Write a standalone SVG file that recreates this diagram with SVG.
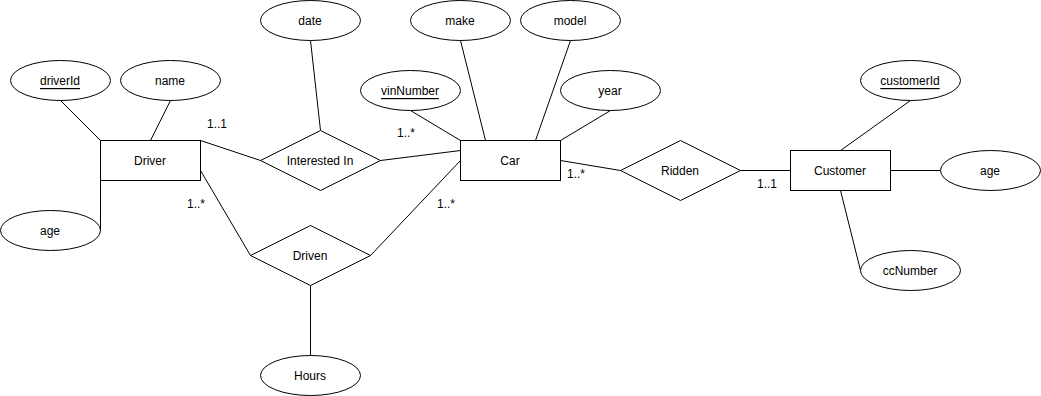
<svg xmlns="http://www.w3.org/2000/svg" width="1041" height="396" viewBox="0 0 1041 396">
  <style>
    .shape { fill: #ffffff; stroke: #000000; stroke-width: 1; }
    .edge { fill: none; stroke: #000000; stroke-width: 1; }
    .label { font-family: "Liberation Sans", Arial, sans-serif; font-size: 12px; fill: #000000; text-anchor: middle; dominant-baseline: central; }
    .card { font-family: "Liberation Sans", Arial, sans-serif; font-size: 12px; fill: #000000; text-anchor: start; dominant-baseline: central; }
    .key { text-decoration: underline; }
  </style>
  <rect width="1041" height="396" fill="#ffffff"/>

  <!-- connectors -->
  <g id="connectors" transform="translate(0.5,0.5)">
    <line class="edge" x1="60" y1="100" x2="100" y2="140"/>
    <line class="edge" x1="170" y1="100" x2="150" y2="140"/>
    <line class="edge" x1="100" y1="180" x2="100" y2="230"/>
    <line class="edge" x1="200" y1="140" x2="260" y2="160"/>
    <line class="edge" x1="310" y1="40" x2="320" y2="130"/>
    <line class="edge" x1="380" y1="160" x2="460" y2="150"/>
    <line class="edge" x1="410" y1="110" x2="460" y2="140"/>
    <line class="edge" x1="460" y1="40" x2="485" y2="140"/>
    <line class="edge" x1="570" y1="40" x2="535" y2="140"/>
    <line class="edge" x1="610" y1="110" x2="560" y2="140"/>
    <line class="edge" x1="560" y1="160" x2="620" y2="170"/>
    <line class="edge" x1="740" y1="170" x2="790" y2="170"/>
    <line class="edge" x1="910" y1="100" x2="840" y2="150"/>
    <line class="edge" x1="890" y1="170" x2="940" y2="170"/>
    <line class="edge" x1="840" y1="190" x2="860" y2="270"/>
    <line class="edge" x1="200" y1="170" x2="250" y2="255"/>
    <line class="edge" x1="460" y1="160" x2="370" y2="255"/>
    <line class="edge" x1="310" y1="285" x2="310" y2="355"/>
  </g>

  <!-- cardinality labels -->
  <g id="cardinalities">
    <text class="card" x="207" y="124">1..1</text>
    <text class="card" x="397" y="133">1..*</text>
    <text class="card" x="187" y="204">1..*</text>
    <text class="card" x="437" y="204">1..*</text>
    <text class="card" x="567" y="174">1..*</text>
    <text class="card" x="757" y="184">1..1</text>
  </g>

  <!-- entities -->
  <g id="driver">
    <rect class="shape" x="100.5" y="140.5" width="100" height="40"/>
    <text class="label" x="150" y="161">Driver</text>
  </g>
  <g id="car">
    <rect class="shape" x="460.5" y="140.5" width="100" height="40"/>
    <text class="label" x="510" y="161">Car</text>
  </g>
  <g id="customer">
    <rect class="shape" x="790.5" y="150.5" width="100" height="40"/>
    <text class="label" x="840" y="171">Customer</text>
  </g>

  <!-- relationships -->
  <g id="interested-in">
    <polygon class="shape" points="260.5,160.5 320.5,130.5 380.5,160.5 320.5,190.5"/>
    <text class="label" x="320" y="161">Interested In</text>
  </g>
  <g id="ridden">
    <polygon class="shape" points="620.5,170.5 680.5,140.5 740.5,170.5 680.5,200.5"/>
    <text class="label" x="680" y="171">Ridden</text>
  </g>
  <g id="driven">
    <polygon class="shape" points="250.5,255.5 310.5,225.5 370.5,255.5 310.5,285.5"/>
    <text class="label" x="310" y="256">Driven</text>
  </g>

  <!-- attributes -->
  <g id="driver-id">
    <ellipse class="shape" cx="60.5" cy="80.5" rx="50" ry="20"/>
    <text class="label key" x="60" y="81">driverId</text>
  </g>
  <g id="driver-name">
    <ellipse class="shape" cx="170.5" cy="80.5" rx="50" ry="20"/>
    <text class="label" x="170" y="81">name</text>
  </g>
  <g id="driver-age">
    <ellipse class="shape" cx="50.5" cy="230.5" rx="50" ry="20"/>
    <text class="label" x="50" y="231">age</text>
  </g>
  <g id="interest-date">
    <ellipse class="shape" cx="310.5" cy="20.5" rx="50" ry="20"/>
    <text class="label" x="310" y="21">date</text>
  </g>
  <g id="car-vin">
    <ellipse class="shape" cx="410.5" cy="90.5" rx="50" ry="20"/>
    <text class="label key" x="410" y="91">vinNumber</text>
  </g>
  <g id="car-make">
    <ellipse class="shape" cx="460.5" cy="20.5" rx="50" ry="20"/>
    <text class="label" x="460" y="21">make</text>
  </g>
  <g id="car-model">
    <ellipse class="shape" cx="570.5" cy="20.5" rx="50" ry="20"/>
    <text class="label" x="570" y="21">model</text>
  </g>
  <g id="car-year">
    <ellipse class="shape" cx="610.5" cy="90.5" rx="50" ry="20"/>
    <text class="label" x="610" y="91">year</text>
  </g>
  <g id="customer-id">
    <ellipse class="shape" cx="910.5" cy="80.5" rx="50" ry="20"/>
    <text class="label key" x="910" y="81">customerId</text>
  </g>
  <g id="customer-age">
    <ellipse class="shape" cx="990.5" cy="170.5" rx="50" ry="20"/>
    <text class="label" x="990" y="171">age</text>
  </g>
  <g id="customer-cc">
    <ellipse class="shape" cx="910.5" cy="270.5" rx="50" ry="20"/>
    <text class="label" x="910" y="271">ccNumber</text>
  </g>
  <g id="driven-hours">
    <ellipse class="shape" cx="310.5" cy="375.5" rx="50" ry="20"/>
    <text class="label" x="310" y="376">Hours</text>
  </g>
</svg>
